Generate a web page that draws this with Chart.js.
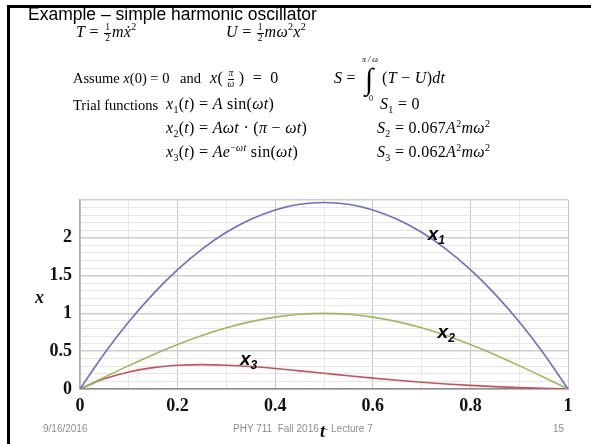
<!DOCTYPE html>
<html>
<head>
<meta charset="utf-8">
<script src="https://cdn.jsdelivr.net/npm/chart.js@4.4.1/dist/chart.umd.min.js"></script>
<style>
  html, body { margin: 0; padding: 0; background: #fff; }
  #slide { position: relative; width: 591px; height: 444px; overflow: hidden; background: #fff; }
  #frame { position: absolute; left: 7px; top: 5px; width: 600px; height: 460px;
           border-left: 3px solid #000; border-top: 3px solid #000; }
  #plot { position: absolute; left: 0; top: 0; }
  .t { position: absolute; white-space: nowrap; line-height: 1; }
  .title { font-family: "Liberation Sans", Arial, sans-serif; font-size: 17.5px; color: #000; }
  .txt { font-family: "Liberation Serif", "Times New Roman", serif; font-size: 14.5px; color: #000; }
  .eq { font-family: "Liberation Serif", "Times New Roman", serif; font-size: 16px; color: #000; letter-spacing: 0.3px; }
  .eq i, .txt i { font-style: italic; }
  .fr { display: inline-block; vertical-align: middle; text-align: center; font-size: 9.5px; line-height: 1; margin: 0 1px; letter-spacing: 0; }
  .fr > span { display: block; }
  .fr > span.num { border-bottom: 1px solid #000; padding: 0 1px; }
  sub, sup { font-size: 10px; line-height: 0; }
  .foot { font-family: "Liberation Sans", Arial, sans-serif; font-size: 10px; color: #8c8c8c; }
  .axt { font-family: "Liberation Serif", "Times New Roman", serif; font-weight: bold; font-style: italic; font-size: 18px; color: #111; }
  .big { font-size: 30px; line-height: 1; }
  .lim { font-size: 8px; font-style: italic; letter-spacing: 0; }
</style>
</head>
<body>
<div id="slide">
  <canvas id="plot" width="591" height="444"></canvas>
  <div id="frame"></div>

  <div class="t title" style="left:28px; top:6px;">Example – simple harmonic oscillator</div>

  <div class="t eq" style="left:76px; top:23px;"><i>T</i> = <span class="fr"><span class="num">1</span><span>2</span></span><i>m</i><i>x&#775;</i><sup>2</sup></div>
  <div class="t eq" style="left:226px; top:23px;"><i>U</i> = <span class="fr"><span class="num">1</span><span>2</span></span><i>mω</i><sup>2</sup><i>x</i><sup>2</sup></div>

  <div class="t txt" style="left:73px; top:71px;">Assume <i>x</i>(0) = 0</div>
  <div class="t txt" style="left:180px; top:71px;">and</div>
  <div class="t eq" style="left:210px; top:69px;"><i>x</i>(&thinsp;<span class="fr"><span class="num"><i>π</i></span><span><i>ω</i></span></span>&thinsp;)&ensp;=&ensp;0</div>

  <div class="t eq" style="left:334px; top:70px;"><i>S</i> = </div>
  <div class="t eq big" style="left:365px; top:64px;">∫</div>
  <div class="t eq lim" style="left:362px; top:56px;">π / ω</div>
  <div class="t eq lim" style="left:369px; top:95px; font-style:normal;">0</div>
  <div class="t eq" style="left:382px; top:70px;">(<i>T</i> − <i>U</i>)<i>dt</i></div>

  <div class="t txt" style="left:73px; top:98px;">Trial functions</div>
  <div class="t eq" style="left:166px; top:96px;"><i>x</i><sub>1</sub>(<i>t</i>) = <i>A</i> sin(<i>ωt</i>)</div>
  <div class="t eq" style="left:380px; top:96px;"><i>S</i><sub>1</sub> = 0</div>

  <div class="t eq" style="left:166px; top:120px;"><i>x</i><sub>2</sub>(<i>t</i>) = <i>Aωt</i> · (<i>π</i> − <i>ωt</i>)</div>
  <div class="t eq" style="left:377px; top:120px;"><i>S</i><sub>2</sub> = 0.067<i>A</i><sup>2</sup><i>mω</i><sup>2</sup></div>

  <div class="t eq" style="left:166px; top:144px;"><i>x</i><sub>3</sub>(<i>t</i>) = <i>Ae</i><sup>−<i>ωt</i></sup> sin(<i>ωt</i>)</div>
  <div class="t eq" style="left:377px; top:144px;"><i>S</i><sub>3</sub> = 0.062<i>A</i><sup>2</sup><i>mω</i><sup>2</sup></div>

  <div class="t foot" style="left:43px; top:424px;">9/16/2016</div>
  <div class="t foot" style="left:233px; top:424px;">PHY 711&nbsp; Fall 2016 -- Lecture 7</div>
  <div class="t foot" style="left:553px; top:424px;">15</div>

  <div class="t axt" style="left:35px; top:288px;">x</div>
  <div class="t axt" style="left:320px; top:422px;">t</div>
</div>

<script>
// time axis samples (t in units of pi/omega)
const tValues = [0, 0.05, 0.1, 0.15, 0.2, 0.25, 0.3, 0.35, 0.4, 0.45, 0.5,
                 0.55, 0.6, 0.65, 0.7, 0.75, 0.8, 0.85, 0.9, 0.95, 1];

// trial function x1 (blue curve)
const x1Values = [0, 0.469, 0.888, 1.258, 1.579, 1.851, 2.073, 2.245, 2.369, 2.443, 2.467,
                  2.443, 2.369, 2.245, 2.073, 1.851, 1.579, 1.258, 0.888, 0.469, 0];

// trial function x2 (green curve)
const x2Values = [0, 0.156, 0.309, 0.454, 0.588, 0.707, 0.809, 0.891, 0.951, 0.988, 1.0,
                  0.988, 0.951, 0.891, 0.809, 0.707, 0.588, 0.454, 0.309, 0.156, 0];

// trial function x3 (red curve)
const x3Values = [0, 0.134, 0.226, 0.283, 0.314, 0.322, 0.315, 0.297, 0.271, 0.240, 0.208,
                  0.175, 0.144, 0.116, 0.090, 0.067, 0.048, 0.031, 0.018, 0.008, 0];

// curve labels: [name, subscript, t, x]
const curveLabels = [
  ['x', '1', 0.725, 2.04],
  ['x', '2', 0.745, 0.74],
  ['x', '3', 0.34, 0.385]
];

const xTickLabels = ['0', '0.2', '0.4', '0.6', '0.8', '1'];
const yTickLabels = ['0', '0.5', '1', '1.5', '2'];

function pts(ys) { return tValues.map((t, i) => ({ x: t, y: ys[i] })); }
function isMult(v, step) { const q = v / step; return Math.abs(q - Math.round(q)) < 1e-6; }

const curveLabelPlugin = {
  id: 'curveLabels',
  afterDatasetsDraw(chart) {
    const ctx = chart.ctx;
    const xs = chart.scales.x, ys = chart.scales.y;
    ctx.save();
    ctx.fillStyle = '#000';
    ctx.textBaseline = 'middle';
    curveLabels.forEach(([name, sub, t, v]) => {
      const px = xs.getPixelForValue(t), py = ys.getPixelForValue(v);
      ctx.font = 'italic bold 19px "Liberation Sans", Arial, sans-serif';
      ctx.textAlign = 'left';
      ctx.fillText(name, px - 6, py);
      const w = ctx.measureText(name).width;
      ctx.font = 'italic bold 12px "Liberation Sans", Arial, sans-serif';
      ctx.fillText(sub, px - 6 + w, py + 6);
    });
    ctx.restore();
  }
};

new Chart(document.getElementById('plot'), {
  type: 'line',
  data: {
    datasets: [
      { data: pts(x1Values), borderColor: '#6c6fc2', borderWidth: 1.6 },
      { data: pts(x2Values), borderColor: '#9bbb59', borderWidth: 1.6 },
      { data: pts(x3Values), borderColor: '#c9505c', borderWidth: 1.6 }
    ]
  },
  options: {
    responsive: false,
    animation: false,
    events: [],
    layout: { padding: { left: 40, right: 23, top: 200, bottom: 0 } },
    elements: {
      point: { radius: 0 },
      line: { cubicInterpolationMode: 'monotone', fill: false }
    },
    plugins: { legend: { display: false }, tooltip: { enabled: false } },
    scales: {
      x: {
        type: 'linear', min: 0, max: 1,
        afterFit(s) { s.height = 55; },
        border: { color: '#8a8a8a', width: 1.5 },
        grid: {
          drawTicks: false,
          color: c => isMult(c.tick.value, 0.2) ? '#c8c8c8' : '#e6e6e6',
          lineWidth: 1
        },
        ticks: {
          stepSize: 0.1, autoSkip: false, maxRotation: 0, padding: 7,
          color: '#111',
          font: { family: '"Liberation Serif", "Times New Roman", serif', size: 18, weight: 'bold' },
          callback: v => isMult(v, 0.2) ? xTickLabels[Math.round(v / 0.2)] : ''
        }
      },
      y: {
        type: 'linear', min: 0, max: 2.5,
        afterFit(s) { s.width = 40; },
        border: { color: '#b0b0b0', width: 1.5 },
        grid: {
          drawTicks: false,
          color: c => isMult(c.tick.value, 0.5) ? '#cdcdcd' : '#e6e6e6',
          lineWidth: c => isMult(c.tick.value, 0.5) ? 1.5 : 1
        },
        ticks: {
          stepSize: 0.1, autoSkip: false, padding: 8,
          color: '#111',
          font: { family: '"Liberation Serif", "Times New Roman", serif', size: 18, weight: 'bold' },
          callback: v => (isMult(v, 0.5) && v < 2.25) ? yTickLabels[Math.round(v / 0.5)] : ''
        }
      }
    }
  },
  plugins: [curveLabelPlugin]
});
</script>
</body>
</html>
